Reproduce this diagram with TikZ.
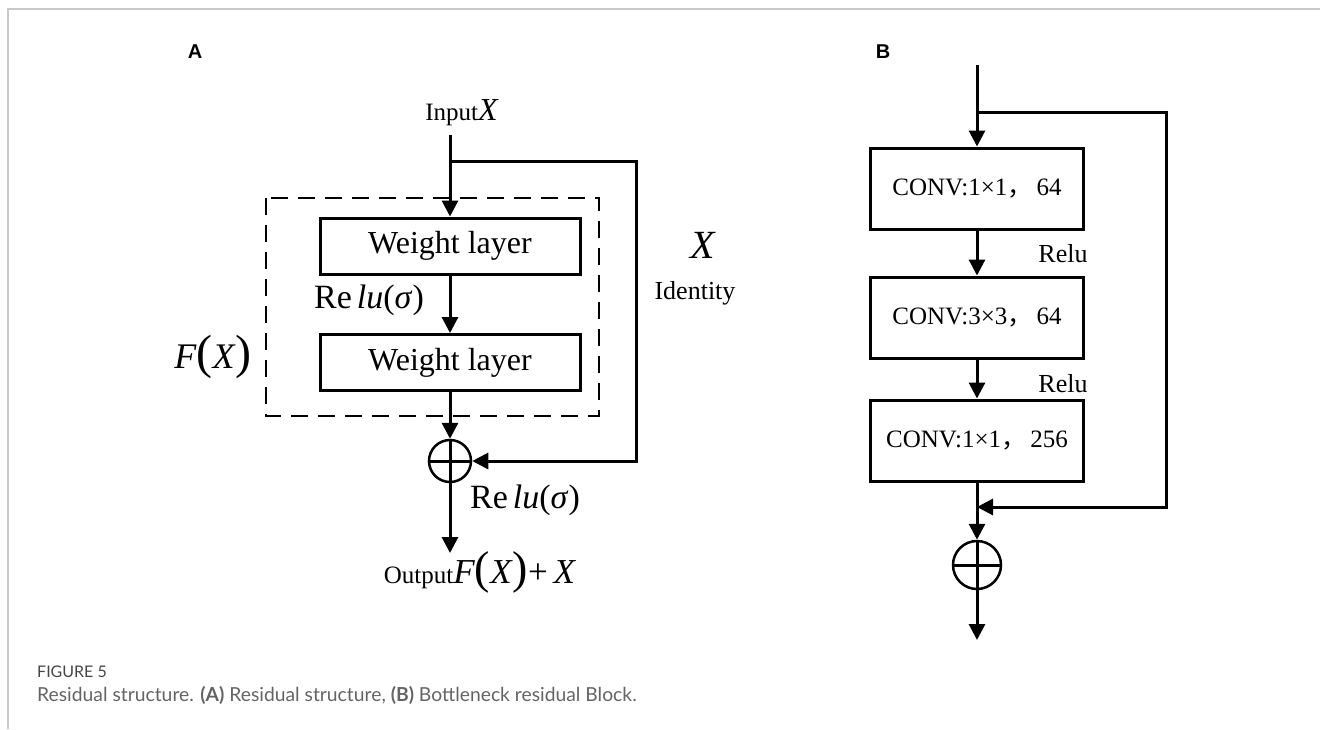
\documentclass[tikz,border=0pt]{standalone}
\usepackage{fontspec}
\setmainfont{Liberation Serif}
\newfontfamily\cjk{Noto Sans CJK SC}
\newfontfamily\panelfont{Liberation Sans}
\newfontfamily\capfont{Lato}
\usetikzlibrary{arrows.meta}
\definecolor{framegray}{RGB}{200,200,200}
\definecolor{capgray}{RGB}{100,100,100}
\newcommand{\fs}[1]{\fontsize{#1}{#1}\selectfont}
\newcommand{\relusig}{Re\kern0.15em\textit{lu}(\textit{σ})}

\begin{document}
\begin{tikzpicture}[x=1pt, y=-1pt, line join=miter, >={Triangle[length=16pt,width=16pt]},
	every node/.style={inner sep=0pt},
	link/.style={line width=3pt},
	wbox/.style={draw, line width=3pt, minimum width=260, minimum height=56, font=\fs{32}},
	cbox/.style={draw, line width=3pt, minimum width=213, minimum height=81, font=\fs{25}},
	sumnode/.style={draw, circle, line width=2.5pt},
	lab/.style={font=\fs{26}}]
	\useasboundingbox (0,0) rectangle (1320,729);
	\draw[framegray, line width=1.5pt] (8,729) -- (8,9) -- (1320,9);
	% panel A
	\node[font=\panelfont\bfseries\fs{20}] (labA) at (195,52) {A};
	\node (inX) at (462,113) {{\fs{25}Input}{\fs{32}\textit{X}}};
	\coordinate (inA) at (450,135);
	\coordinate (brA) at (450,161);
	\coordinate (cA1) at (636,161);
	\coordinate (cA2) at (636,461);
	\coordinate (outA) at (450,553);
	\draw[line width=1.5pt, dash pattern=on 17pt off 10pt] (266,198) rectangle (599,416);
	\node[wbox] (w1) at (450,246) {Weight layer};
	\node[wbox] (w2) at (450,362.5) {Weight layer};
	\node[sumnode, minimum size=42] (s1) at (450,461) {};
	\draw[link] (s1.north) -- (s1.south) (s1.west) -- (s1.east);
	\draw[link,->] (inA) -- (w1);
	\draw[link,->] (w1) -- (w2);
	\draw[link,->] (w2) -- (s1);
	\draw[link,->] (brA) -- (cA1) -- (cA2) -- (s1);
	\draw[link,->] (s1) -- (outA);
	\node[font=\fs{34}] (r1) at (369,300) {\relusig};
	\node[font=\fs{34}] (r2) at (525,500) {\relusig};
	\node[font=\fs{36}] (fx) at (213,357) {\textit{F}{\fs{48}(}\textit{X}{\fs{48})}};
	\node (outX) at (480,572) {{\fs{25}Output}{\fs{35}\textit{F}{\fs{46}(}\textit{X}{\fs{46})}+\,\textit{X}}};
	\node[font=\fs{40}] (idX) at (703,245) {\textit{X}};
	\node[lab] (idt) at (695,293) {Identity};
	% panel B
	\node[font=\panelfont\bfseries\fs{20}] (labB) at (883,52) {B};
	\coordinate (inB) at (977,65);
	\coordinate (brB) at (977,112);
	\coordinate (cB1) at (1166,112);
	\coordinate (cB2) at (1166,507);
	\coordinate (jB) at (977,507);
	\coordinate (outB) at (977,640);
	\node[cbox] (c1) at (977,188.5) {CONV:1×1{\cjk ，}\,64};
	\node[cbox] (c2) at (977,317.5) {CONV:3×3{\cjk ，}\,64};
	\node[cbox] (c3) at (977,440.5) {CONV:1×1{\cjk ，}\,256};
	\node[sumnode, minimum size=48] (s2) at (977,565) {};
	\draw[link] (s2.north) -- (s2.south) (s2.west) -- (s2.east);
	\draw[link,->] (inB) -- (c1);
	\draw[link,->] (c1) -- (c2);
	\draw[link,->] (c2) -- (c3);
	\draw[link,->] (c3) -- (s2);
	\draw[link,->] (brB) -- (cB1) -- (cB2) -- (jB);
	\draw[link,->] (s2) -- (outB);
	\node[lab] (relu1) at (1063,254) {Relu};
	\node[lab] (relu2) at (1063,384) {Relu};
	% caption
	\node[anchor=west, text=capgray!120, font=\capfont\fs{16}] (fig) at (37,672) {FIGURE 5};
	\node[anchor=west, text=capgray, font=\capfont\fs{19.3}] (cap) at (37,695) {Residual structure. {\bfseries (A)} Residual structure, {\bfseries (B)} Bottleneck residual Block.};
\end{tikzpicture}
\end{document}
